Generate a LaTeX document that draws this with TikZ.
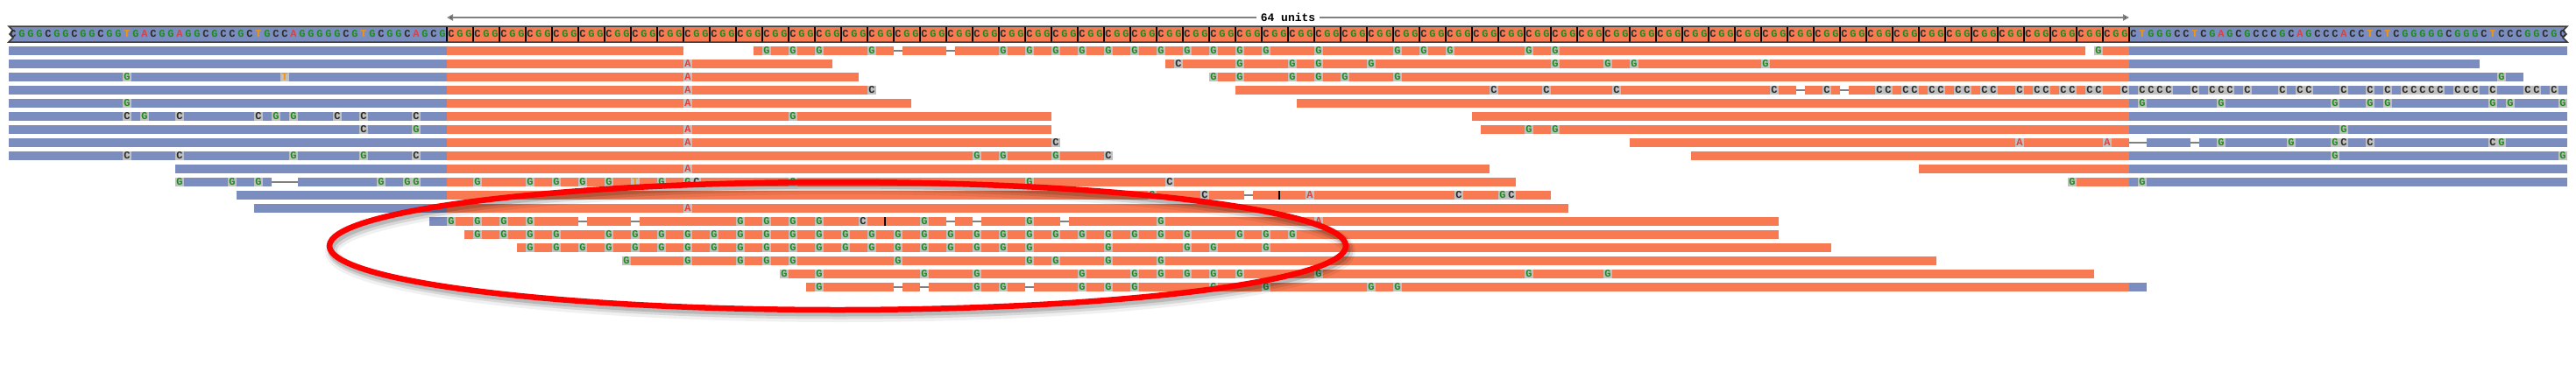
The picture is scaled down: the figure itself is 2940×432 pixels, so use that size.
\documentclass[tikz,border=0pt]{standalone}
\usepackage{fontspec}
\setmonofont{Liberation Mono}
\usetikzlibrary{arrows.meta}
\definecolor{rblue}{HTML}{7B8CBF}
\definecolor{rorange}{HTML}{F87A52}
\definecolor{mmgray}{HTML}{C0C0C0}
\definecolor{nG}{HTML}{1E8A1E}
\definecolor{nC}{HTML}{2B2B2B}
\definecolor{nA}{HTML}{F03A32}
\definecolor{nT}{HTML}{F39412}
\definecolor{delgray}{HTML}{808080}
\definecolor{refborder}{HTML}{3A3A3A}
\tikzset{
  nuc/.style={font=\ttfamily\bfseries\fontsize{12}{12}\selectfont, inner sep=0pt},
  delline/.style={draw=delgray, line width=1.6pt},
  insline/.style={draw=black, line width=1.2pt},
  scaleline/.style={draw=delgray, line width=2pt, -{Triangle[length=7pt,width=7pt,fill=black]}},
  circled/.style={draw=red, line width=6.5pt},
}
\newcommand\bseg[3]{\fill[rblue] ({10+10*(#2)},{53+15*(#1)}) rectangle ({10+10*(#3)},{63+15*(#1)});}
\newcommand\oseg[3]{\fill[rorange] ({10+10*(#2)},{53+15*(#1)}) rectangle ({10+10*(#3)},{63+15*(#1)});}
\newcommand\mmx[3]{\foreach \b in {#3}{\fill[mmgray] ({10+10*\b},{53+15*(#1)}) rectangle ({20+10*\b},{63+15*(#1)}); \node[nuc,text=n#2] at ({15+10*\b},{58+15*(#1)}) {#2};}}
\newcommand\delx[3]{\fill[white] ({10+10*(#2)},{52+15*(#1)}) rectangle ({10+10*(#3)},{64+15*(#1)}); \draw[delline] ({10+10*(#2)},{58+15*(#1)}) -- ({10+10*(#3)},{58+15*(#1)});}
\newcommand\insx[2]{\draw[insline] ({10+10*(#2)},{53+15*(#1)}) -- ({10+10*(#2)},{63+15*(#1)});}
\begin{document}
\begin{tikzpicture}[x=1pt,y=-1pt]
\useasboundingbox (0,0) rectangle (2940,432);
\fill[white] (0,0) rectangle (2940,432);
% scale bar
\node[font=\ttfamily\bfseries\fontsize{13}{13}\selectfont, fill=white, inner xsep=5pt, inner ysep=1pt] (lbl) at (1470,20) {64 units};
\coordinate (sl) at (510,20);
\coordinate (sr) at (2430,20);
\draw[scaleline] (lbl.west) -- (sl);
\draw[scaleline] (lbl.east) -- (sr);
% reference row
\fill[rblue] (10,30) -- (2930,30) -- (2925,35) -- (2929,39) -- (2925,43) -- (2930,48) -- (10,48) -- (15,43) -- (11,39) -- (15,35) -- cycle;
\fill[rorange] (510,30) rectangle (2430,48);
\foreach \k in {0,...,64} {\draw[black, line width=1.3pt] ({510+30*\k},30) -- ({510+30*\k},48);}
\draw[refborder, line width=1.5pt] (10,30) -- (2930,30) -- (2925,35) -- (2929,39) -- (2925,43) -- (2930,48) -- (10,48) -- (15,43) -- (11,39) -- (15,35) -- cycle;
\foreach \c [count=\i from 0] in {C,G,G,G,C,G,G,C,G,G,C,G,G,T,G,A,C,G,G,A,G,G,C,G,C,C,G,C,T,G,C,C,A,G,G,G,G,G,C,G,T,G,C,G,G,C,A,G,C,G}
  {\node[nuc,text=n\c] at ({15+10*\i},39) {\c};}
\foreach \k in {0,...,63} {
  \node[nuc,text=nC] at ({515+30*\k},39) {C};
  \node[nuc,text=nG] at ({525+30*\k},39) {G};
  \node[nuc,text=nG] at ({535+30*\k},39) {G};}
\foreach \c [count=\i from 242] in {C,T,G,G,G,C,C,T,C,G,A,G,C,G,C,C,C,G,C,A,G,C,C,C,A,C,C,T,C,T,C,G,G,G,G,G,C,G,G,G,C,T,C,C,C,G,G,C,G,C}
  {\node[nuc,text=n\c] at ({15+10*\i},39) {\c};}
% row 0
\bseg{0}{0}{50}\oseg{0}{50}{77}
\oseg{0}{85}{237}\delx{0}{101}{102}\delx{0}{107}{108}
\mmx{0}{G}{86,89,92,98,113,116,119,122,125,128,131,134,137,140,143,149,158,161,164,173,176}
\oseg{0}{238}{242}\bseg{0}{242}{292}\mmx{0}{G}{238}
% row 1
\bseg{1}{0}{50}\oseg{1}{50}{94}\mmx{1}{A}{77}
\oseg{1}{132}{242}\bseg{1}{242}{282}\mmx{1}{C}{133}\mmx{1}{G}{140,146,149,155,176,182,185,200}
% row 2
\bseg{2}{0}{50}\oseg{2}{50}{97}\mmx{2}{G}{13}\mmx{2}{T}{31}\mmx{2}{A}{77}
\oseg{2}{137}{242}\bseg{2}{242}{287}\mmx{2}{G}{137,140,146,149,152,158,284}
% row 3
\bseg{3}{0}{50}\oseg{3}{50}{99}\mmx{3}{A}{77}\mmx{3}{C}{98}
\oseg{3}{140}{242}\bseg{3}{242}{292}\delx{3}{204}{205}\delx{3}{209}{210}
\mmx{3}{C}{169,175,183,201,207,213,214,216,217,219,220,222,223,225,226,229,231,232,234,235,237,238,241,243,244,245,246,249,251,252,253,255,259,261,262,266,269,271,273,274,275,276,277,279,280,281,283,287,288,290}
% row 4
\bseg{4}{0}{50}\oseg{4}{50}{103}\mmx{4}{G}{13}\mmx{4}{A}{77}
\oseg{4}{147}{242}\bseg{4}{242}{292}\mmx{4}{G}{243,252,265,269,271,283,285,291}
% row 5
\bseg{5}{0}{50}\oseg{5}{50}{119}\mmx{5}{C}{13,19,28,37,40,46}\mmx{5}{G}{15,30,32,89}
\oseg{5}{167}{242}\bseg{5}{242}{292}
% row 6
\bseg{6}{0}{50}\oseg{6}{50}{119}\mmx{6}{C}{40}\mmx{6}{G}{46}\mmx{6}{A}{77}
\oseg{6}{168}{242}\bseg{6}{242}{292}\mmx{6}{G}{173,176,266}
% row 7
\bseg{7}{0}{50}\oseg{7}{50}{120}\mmx{7}{A}{77}\mmx{7}{C}{119}
\oseg{7}{185}{242}\bseg{7}{244}{292}\delx{7}{242}{244}\delx{7}{249}{250}
\mmx{7}{A}{229,239}\mmx{7}{G}{252,260,265,284}\mmx{7}{C}{266,269,283}
% row 8
\bseg{8}{0}{50}\oseg{8}{50}{126}\mmx{8}{C}{13,19,46,125}\mmx{8}{G}{32,40,110,113,119}
\oseg{8}{192}{242}\bseg{8}{242}{292}\mmx{8}{G}{265,291}
% row 9
\bseg{9}{19}{50}\oseg{9}{50}{169}\mmx{9}{A}{77}
\oseg{9}{218}{242}\bseg{9}{242}{292}
% row 10
\bseg{10}{19}{50}\oseg{10}{50}{172}\delx{10}{30}{33}
\mmx{10}{G}{19,25,28,42,45,46,53,59,62,65,68,74,77,89,116}\mmx{10}{T}{71}\mmx{10}{C}{78,132}
\oseg{10}{235}{242}\bseg{10}{242}{292}\mmx{10}{G}{235,243}
% row 11
\bseg{11}{26}{50}\oseg{11}{50}{176}\delx{11}{141}{142}
\mmx{11}{G}{130,170}\mmx{11}{C}{136,165,171}\mmx{11}{A}{148}\insx{11}{145}
% row 12
\bseg{12}{28}{50}\oseg{12}{50}{178}\mmx{12}{A}{77}
% row 13
\bseg{13}{48}{50}\oseg{13}{50}{202}
\delx{13}{65}{66}\delx{13}{71}{72}\delx{13}{107}{108}\delx{13}{110}{111}\delx{13}{120}{121}
\mmx{13}{G}{50,53,56,59,83,86,89,92,104,116,131}\mmx{13}{C}{97}\mmx{13}{A}{149}\insx{13}{100}
% row 14
\oseg{14}{52}{202}
\mmx{14}{G}{53,56,59,62,68,71,74,77,80,83,86,89,92,95,98,101,104,107,110,113,116,119,122,125,128,131,134,140,143,146}
% row 15
\oseg{15}{58}{208}
\mmx{15}{G}{59,62,65,68,71,74,77,80,83,86,89,92,95,98,101,104,107,110,113,116,125,134,137,143}
% row 16
\oseg{16}{70}{220}\mmx{16}{G}{70,77,83,86,89,101,116,119,125,131}
% row 17
\oseg{17}{88}{238}\mmx{17}{G}{88,92,104,110,122,128,131,134,137,140,149,173,182}
% row 18
\oseg{18}{91}{242}\bseg{18}{242}{244}\delx{18}{101}{102}\delx{18}{104}{105}\delx{18}{116}{117}
\mmx{18}{G}{92,110,113,122,125,128,137,143,155,158}
% highlight ellipse with soft shadow
\coordinate (ec) at (956,281);
\draw[black, opacity=0.06, line width=16pt] ([shift={(3,6)}]ec) ellipse [x radius=580, y radius=73];
\draw[black, opacity=0.10, line width=11pt] ([shift={(3,5)}]ec) ellipse [x radius=580, y radius=73];
\draw[black, opacity=0.14, line width=7pt] ([shift={(2,4)}]ec) ellipse [x radius=580, y radius=73];
\draw[circled] (ec) ellipse [x radius=580, y radius=73];
\end{tikzpicture}
\end{document}
